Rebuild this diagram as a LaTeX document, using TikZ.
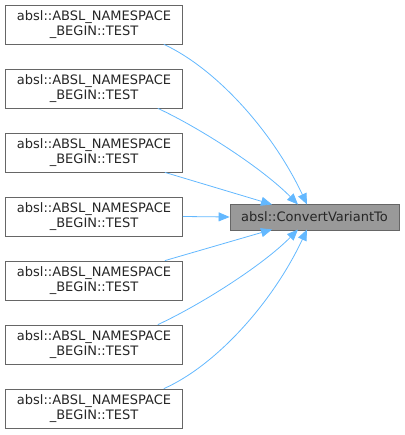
\documentclass[tikz,border=0pt]{standalone}
\usepackage{fontspec}
\setmainfont{DejaVu Sans}
\usetikzlibrary{arrows.meta}
\definecolor{edgec}{HTML}{63B8FF}
\definecolor{boxb}{HTML}{666666}
\definecolor{boxf}{HTML}{999999}
\begin{document}
\begin{tikzpicture}[x=1pt,y=-1pt,
  caller/.style={draw=boxb, fill=white, line width=0.8pt, minimum width=177pt, minimum height=39pt, inner sep=0pt, align=center, font=\fontsize{13}{15}\selectfont, text=black!85},
  callee/.style={draw=boxb, fill=boxf, line width=0.8pt, minimum width=169pt, minimum height=26pt, inner sep=0pt, font=\fontsize{13}{15}\selectfont, text=black!85},
  edge/.style={draw=edgec, line width=0.8pt, -{Triangle[length=11pt,width=9pt]}}]
\useasboundingbox (0,0) rectangle (404,435);
\node[callee] (t) at (314.5,217) {absl::ConvertVariantTo};
\foreach \i/\y in {1/24.5,2/88.5,3/152.5,4/216.5,5/280.5,6/344.5,7/408.5}{
  \node[caller] (c\i) at (94,\y) {absl::ABSL\_NAMESPACE\\\_BEGIN::TEST};
}
\coordinate (e1) at (307,204.5);
\coordinate (e2) at (298,204.5);
\coordinate (e3) at (272,204.5);
\coordinate (e5) at (272,229.5);
\coordinate (e6) at (298,229.5);
\coordinate (e7) at (307,229.5);
\draw[edge] (c1.south east) ++(-19,0) coordinate (s1) .. controls (215,68) and (272,130) .. (e1);
\draw[edge] (c2.south east) ++(-25,0) coordinate (s2) .. controls (200,128) and (262,168) .. (e2);
\draw[edge] (c3.south east) ++(-18,0) coordinate (s3) -- (e3);
\draw[edge] (c4.east) -- (t.west);
\draw[edge] (c5.north east) ++(-18,0) coordinate (s5) -- (e5);
\draw[edge] (c6.north east) ++(-25,0) coordinate (s6) .. controls (200,305) and (262,266) .. (e6);
\draw[edge] (c7.north east) ++(-19,0) coordinate (s7) .. controls (215,366) and (272,304) .. (e7);
\end{tikzpicture}
\end{document}
